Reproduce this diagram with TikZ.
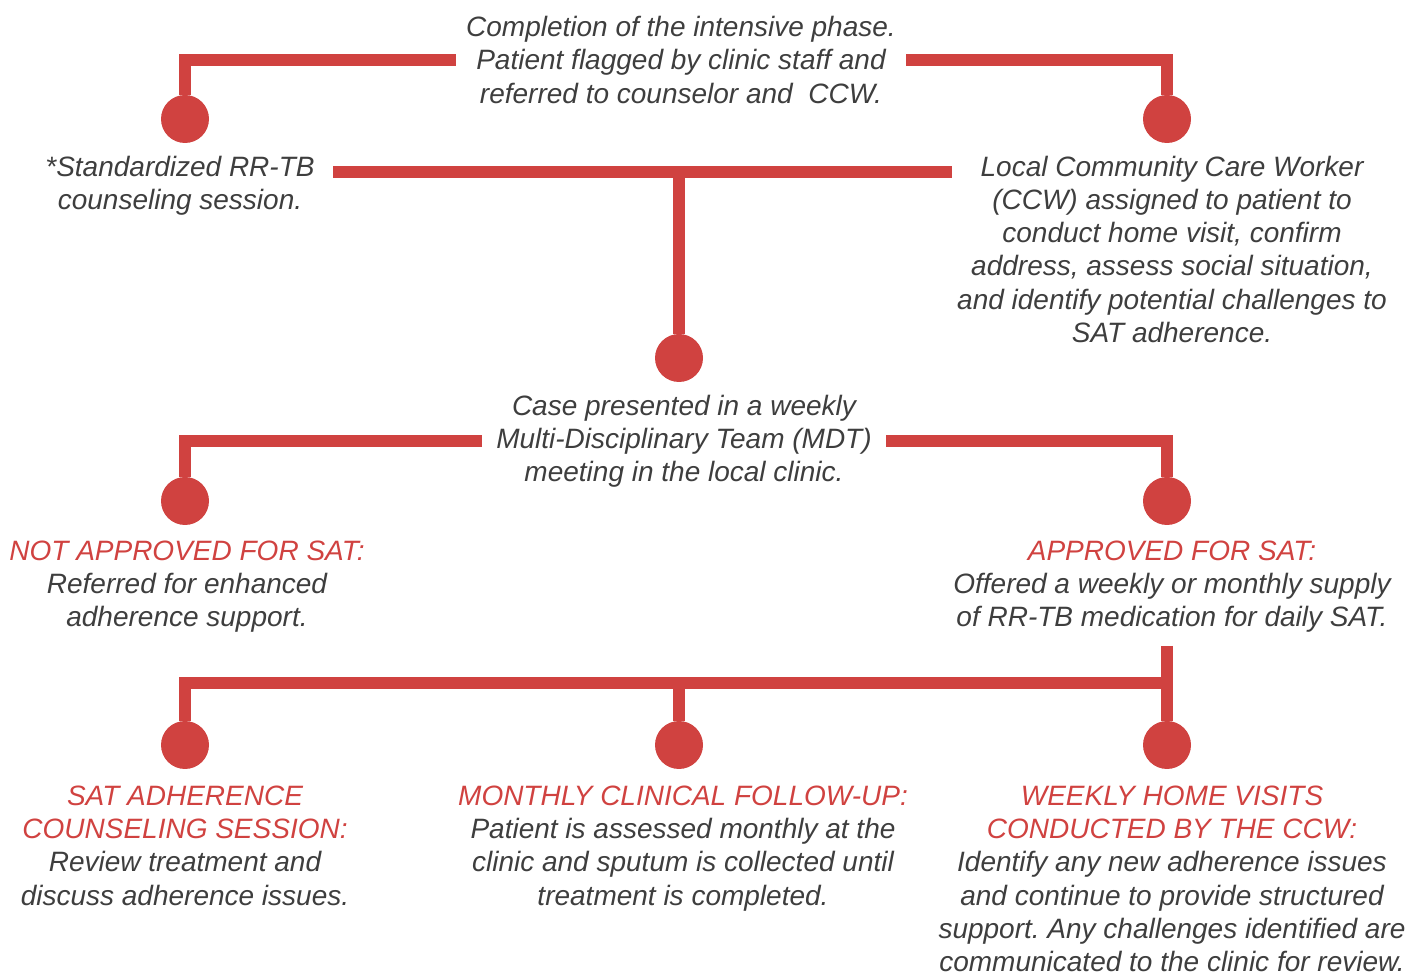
\documentclass[tikz,border=0pt]{standalone}
\usepackage{fontspec}
\setmainfont{Liberation Sans}
\usetikzlibrary{positioning}
\frenchspacing

\definecolor{barred}{RGB}{208,66,64}
\definecolor{txtgray}{RGB}{62,62,62}

\tikzset{
	bar/.style={draw=barred, line width=6.25pt},
	dot/.style={circle, fill=barred, minimum size=24pt, inner sep=0pt},
	txt/.style={align=center, text=txtgray, inner sep=0pt,
		font=\fontsize{14}{16.65}\selectfont\itshape},
}
\newcommand{\hd}[1]{\textcolor{barred}{#1}}

\begin{document}
\begin{tikzpicture}[x=0.5pt, y=-0.5pt, node distance=6pt]
	\useasboundingbox (0,0) rectangle (1420,972);

	% dots
	\node[dot] (d1) at (185,119) {};
	\node[dot] (d2) at (1167,119) {};
	\node[dot] (d3) at (679,358) {};
	\node[dot] (d4) at (185,501) {};
	\node[dot] (d5) at (1167,501) {};
	\node[dot] (d6) at (185,745) {};
	\node[dot] (d7) at (679,745) {};
	\node[dot] (d8) at (1167,745) {};

	% texts
	\node[txt, anchor=north, inner xsep=5pt] (intro) at (681,16)
		{Completion of the intensive phase.\\Patient flagged by clinic staff and\\referred to counselor and \ CCW.};
	\node[txt, below=of d1, xshift=-2.5pt] (t1)
		{*Standardized RR-TB\\counseling session.};
	\node[txt, below=of d2, xshift=2.5pt] (t2)
		{Local Community Care Worker\\(CCW) assigned to patient to\\conduct home visit, confirm\\address, assess social situation,\\and identify potential challenges to\\SAT adherence.};
	\node[txt, below=of d3, xshift=2.5pt, inner xsep=7pt] (mdt)
		{Case presented in a weekly\\Multi-Disciplinary Team (MDT)\\meeting in the local clinic.};
	\node[txt, below=7.5pt of d4, xshift=1pt] (t4)
		{\hd{NOT APPROVED FOR SAT:}\\Referred for enhanced\\adherence support.};
	\node[txt, below=7.5pt of d5, xshift=2.5pt] (t5)
		{\hd{APPROVED FOR SAT:}\\Offered a weekly or monthly supply\\of RR-TB medication for daily SAT.};
	\node[txt, below=8pt of d6] (t6)
		{\hd{SAT ADHERENCE}\\\hd{COUNSELING SESSION:}\\Review treatment and\\discuss adherence issues.};
	\node[txt, below=8pt of d7, xshift=2pt] (t7)
		{\hd{MONTHLY CLINICAL FOLLOW-UP:}\\Patient is assessed monthly at the\\clinic and sputum is collected until\\treatment is completed.};
	\node[txt, below=8pt of d8, xshift=2.5pt] (t8)
		{\hd{WEEKLY HOME VISITS}\\\hd{CONDUCTED BY THE CCW:}\\Identify any new adherence issues\\and continue to provide structured\\support. Any challenges identified are\\communicated to the clinic for review.};

	% joins
	\coordinate (s1) at (333,172);
	\coordinate (s2) at (952,172);
	\coordinate (bj) at (1167,683);
	\coordinate (b0) at (1167,646);

	% bars
	\draw[bar] (intro.west) -| (d1);
	\draw[bar] (intro.east) -| (d2);
	\draw[bar] (s1) -- (s2);
	\draw[bar] (d3 |- s1) -- (d3);
	\draw[bar] (mdt.west) -| (d4);
	\draw[bar] (mdt.east) -| (d5);
	\draw[bar] (b0) -- (d8);
	\draw[bar] (d6) |- (bj);
	\draw[bar] (d7 |- bj) -- (d7);
\end{tikzpicture}
\end{document}
